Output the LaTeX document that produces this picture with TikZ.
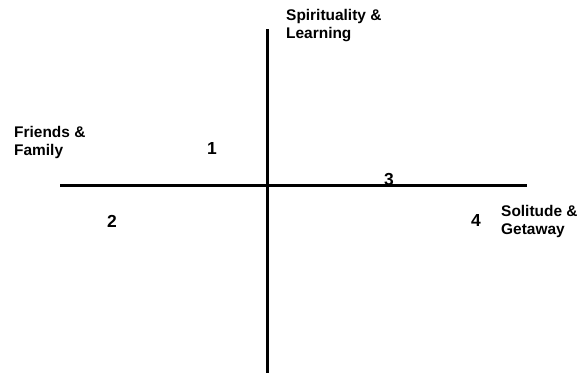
\documentclass[tikz,border=0pt]{standalone}
\usepackage{fontspec}
\setmainfont{Liberation Sans}
\begin{document}
\begin{tikzpicture}[x=1bp,y=-1bp,
  axis/.style={line width=3bp,black},
  lbl/.style={anchor=north west,inner sep=0pt,align=left,font=\bfseries\fontsize{15.5}{18.5}\selectfont},
  num/.style={inner sep=0pt,font=\bfseries\fontsize{17.5}{18}\selectfont}]
\useasboundingbox (0,0) rectangle (588,374);
\coordinate (hl) at (60,185);
\coordinate (hr) at (527,185);
\coordinate (vt) at (267,29);
\coordinate (vb) at (267,373);
\draw[axis] (hl) -- (hr);
\draw[axis] (vt) -- (vb);
\node[lbl] (sl) at (286,9) {Spirituality \&\\Learning};
\node[lbl] (ff) at (14,126) {Friends \&\\Family};
\node[lbl] (sg) at (501,205) {Solitude \&\\Getaway};
\node[num] (n1) at (212,148) {1};
\node[num] (n2) at (112,221) {2};
\node[num] (n3) at (389,180) {3};
\node[num] (n4) at (476,220) {4};
\end{tikzpicture}
\end{document}
